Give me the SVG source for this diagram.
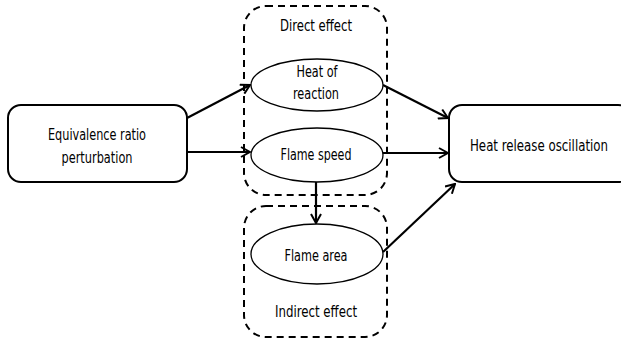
<svg xmlns="http://www.w3.org/2000/svg" width="621" height="339" viewBox="0 0 621 339">
<style>
text{font-family:"DejaVu Sans Condensed","DejaVu Sans",sans-serif;font-size:16px;fill:#000;text-anchor:middle}
.box{fill:#fff;stroke:#000;stroke-width:2}
.grp{fill:none;stroke:#000;stroke-width:2;stroke-dasharray:7,5}
.ell{fill:#fff;stroke:#000;stroke-width:1.3}
.con{fill:none;stroke:#000;stroke-width:2.2;marker-end:url(#ah)}
</style>
<defs>
<marker id="ah" viewBox="0 0 12 12" refX="11" refY="6" markerWidth="12" markerHeight="12" markerUnits="userSpaceOnUse" orient="auto">
<polyline points="2,1 11,6 2,11" fill="none" stroke="#000" stroke-width="2"/>
</marker>
</defs>
<g id="direct-effect">
<rect class="grp" x="244" y="6" width="143" height="189" rx="22"/>
<text x="316" y="31" textLength="72" lengthAdjust="spacingAndGlyphs">Direct effect</text>
</g>
<g id="indirect-effect">
<rect class="grp" x="244" y="206" width="143" height="131" rx="22"/>
<text x="316" y="317" textLength="82" lengthAdjust="spacingAndGlyphs">Indirect effect</text>
</g>
<g id="connectors">
<line class="con" x1="187" y1="118" x2="250" y2="85"/>
<line class="con" x1="187" y1="152" x2="250" y2="152"/>
<line class="con" x1="383" y1="85" x2="448" y2="118"/>
<line class="con" x1="383" y1="153" x2="448" y2="153"/>
<line class="con" x1="383" y1="252" x2="455" y2="184"/>
<line class="con" x1="316" y1="182" x2="316" y2="223"/>
</g>
<g id="equivalence">
<rect class="box" x="8" y="105" width="179" height="77" rx="13"/>
<text x="97" y="140" textLength="98" lengthAdjust="spacingAndGlyphs">Equivalence ratio</text>
<text x="97" y="163" textLength="71" lengthAdjust="spacingAndGlyphs">perturbation</text>
</g>
<g id="heat-of-reaction">
<ellipse class="ell" cx="317" cy="85" rx="66" ry="26"/>
<text x="317" y="77" textLength="41" lengthAdjust="spacingAndGlyphs">Heat of</text>
<text x="316" y="99" textLength="46" lengthAdjust="spacingAndGlyphs">reaction</text>
</g>
<g id="flame-speed">
<ellipse class="ell" cx="317" cy="155" rx="66" ry="27"/>
<text x="316" y="160" textLength="71" lengthAdjust="spacingAndGlyphs">Flame speed</text>
</g>
<g id="flame-area">
<ellipse class="ell" cx="317" cy="254" rx="66" ry="30"/>
<text x="316" y="261" textLength="63" lengthAdjust="spacingAndGlyphs">Flame area</text>
</g>
<g id="heat-release">
<rect class="box" x="449" y="105" width="182" height="77" rx="13"/>
<text transform="translate(539,151) scale(0.82,1)" x="0" y="0">Heat release oscillation</text>
</g>
</svg>
